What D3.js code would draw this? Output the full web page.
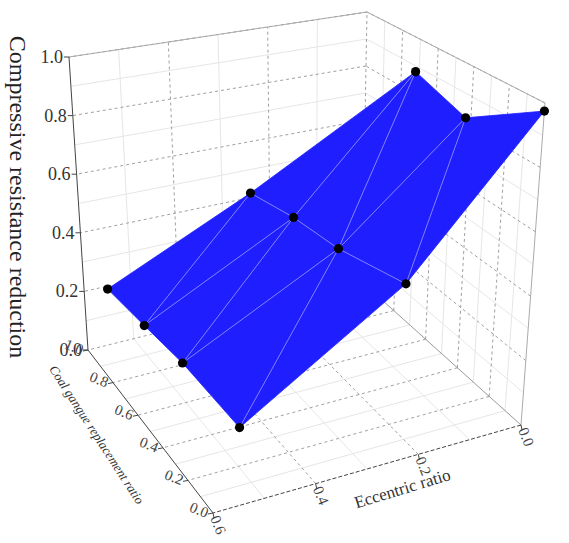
<!DOCTYPE html>
<html><head><meta charset="utf-8">
<script src="https://cdn.jsdelivr.net/npm/d3@7"></script>
<style>body{margin:0;background:#fff} text{font-family:"Liberation Serif","DejaVu Serif",serif}</style></head>
<body><svg id="c" width="569" height="543"></svg>
<script>
// Data
const eccentric = [0, 0.24, 0.55];            // eccentric ratio values
const replacement = [0, 0.43, 0.72, 1.0];     // coal gangue replacement ratio
const reduction = [                            // rows by eccentric, cols by replacement
  [0.975, 0.82, 0.88, null],
  [0.535, 0.476, 0.457, 0.416],
  [0.23, 0.23, 0.21, 0.19]
];
const zTicks = [0, 0.2, 0.4, 0.6, 0.8, 1.0];
const cTicks = [0, 0.2, 0.4, 0.6, 0.8, 1.0];
const eTicks = [0, 0.2, 0.4, 0.6];

const svg = d3.select("#c");
const ea = d3.scaleLinear().domain([0, 0.6]).range([0, 1]);
const ca = d3.scaleLinear().domain([0, 1]).range([0, 1]);
const za = d3.scaleLinear().domain([0, 1]).range([0, 1]);
const botQ = [[[521,425],[362,282]],[[213,513],[88,350]]];
const topQ = [[[545,103],[367,12]],[[215,172],[69,57]]];
function bil(q, a, b) {
  const p0 = [q[0][0][0]*(1-a)+q[1][0][0]*a, q[0][0][1]*(1-a)+q[1][0][1]*a];
  const p1 = [q[0][1][0]*(1-a)+q[1][1][0]*a, q[0][1][1]*(1-a)+q[1][1][1]*a];
  return [p0[0]*(1-b)+p1[0]*b, p0[1]*(1-b)+p1[1]*b];
}
function P(e, c, z) {
  const a = ea(e), b = ca(c), h = za(z);
  const p = bil(botQ, a, b), q = bil(topQ, a, b);
  return [p[0]*(1-h)+q[0]*h, p[1]*(1-h)+q[1]*h];
}
function line3(a, b, stroke, dash, w) {
  const p = P(...a), q = P(...b);
  svg.append("line").attr("x1",p[0]).attr("y1",p[1]).attr("x2",q[0]).attr("y2",q[1])
    .attr("stroke",stroke).attr("stroke-width",w||1).attr("stroke-dasharray",dash||null);
}
const minor = "#e6e6e6", major = "#a0a0a0";
for (let i = 1; i < 10; i += 2) { const v = i/10;
  line3([0,v,0],[0.6,v,0],minor); line3([0,1,v],[0.6,1,v],minor); line3([0,0,v],[0,1,v],minor);
  line3([0,v,0],[0,v,1],minor);
}
for (let i = 1; i < 6; i += 2) { const e = i/10; line3([e,0,0],[e,1,0],minor); line3([e,1,0],[e,1,1],minor); }
zTicks.slice(1).forEach(z => { line3([0,1,z],[0.6,1,z],major,"3,3"); line3([0,0,z],[0,1,z],major,"3,3"); });
cTicks.slice(1,5).forEach(c => { line3([0,c,0],[0.6,c,0],major,"3,3"); line3([0,c,0],[0,c,1],major,"3,3"); });
eTicks.slice(1,3).forEach(e => { line3([e,0,0],[e,1,0],major,"3,3"); line3([e,1,0],[e,1,1],major,"3,3"); });
line3([0,1,0],[0,1,1],major,"3,3");
line3([0,1,0],[0.6,1,0],major,"3,3");
line3([0,0,0],[0,1,0],"#999");
line3([0.6,1,1],[0,1,1],"#aaa"); line3([0,1,1],[0,0,1],"#aaa"); line3([0,0,0],[0,0,1],"#aaa");
line3([0.6,1,0],[0.6,1,1],"#444");
line3([0.6,0,0],[0.6,1,0],"#444");
line3([0,0,0],[0.6,0,0],"#444","4,2");

const pts = [];
reduction.forEach((row, i) => row.forEach((z, j) => { if (z != null) pts.push({i, j, e: eccentric[i], c: replacement[j], z}); }));
const idx = (i, j) => pts.findIndex(p => p.i === i && p.j === j);
const tris = [[[2,3],[2,2],[1,3]],[[2,2],[1,3],[1,2]],[[2,2],[2,1],[1,2]],[[2,1],[1,2],[1,1]],
  [[2,1],[2,0],[1,1]],[[2,0],[1,1],[1,0]],[[1,3],[1,2],[0,2]],[[1,2],[1,1],[0,2]],
  [[1,1],[0,2],[0,1]],[[1,1],[1,0],[0,1]],[[1,0],[0,1],[0,0]]].map(t => t.map(k => pts[idx(k[0],k[1])]));
const proj = p => P(p.e, p.c, p.z);
const surf = svg.append("g");
tris.forEach(t => surf.append("path").attr("d", d3.line()(t.map(proj)) + "Z")
  .attr("fill","#1e1eff").attr("stroke","#1e1eff").attr("stroke-width",0.8));
const ecount = new Map();
tris.forEach(t => [[0,1],[1,2],[0,2]].forEach(([a,b]) => {
  const k = [t[a],t[b]].map(p => p.i+"_"+p.j).sort().join("|");
  if (!ecount.has(k)) ecount.set(k, {n:0, a:t[a], b:t[b]});
  ecount.get(k).n++;
}));
ecount.forEach(v => { if (v.n > 1) { const p = proj(v.a), q = proj(v.b);
  surf.append("line").attr("x1",p[0]).attr("y1",p[1]).attr("x2",q[0]).attr("y2",q[1])
    .attr("stroke","#fff").attr("stroke-opacity",0.55).attr("stroke-width",0.8); }});
pts.forEach(p => { const q = proj(p);
  svg.append("circle").attr("cx",q[0]).attr("cy",q[1]).attr("r",4.6).attr("fill","#000"); });

zTicks.forEach(z => { const p = P(0.6,1,z);
  svg.append("line").attr("x1",p[0]-5).attr("y1",p[1]).attr("x2",p[0]).attr("y2",p[1]).attr("stroke","#444");
  svg.append("text").attr("x",p[0]-6).attr("y",p[1]+6).attr("text-anchor","end")
    .attr("font-size",18).attr("fill","#333").text(z.toFixed(1)); });
cTicks.forEach(c => { const p = P(0.6,c,0);
  svg.append("line").attr("x1",p[0]).attr("y1",p[1]).attr("x2",p[0]-5).attr("y2",p[1]+1).attr("stroke","#444");
  svg.append("text").attr("transform",`translate(${p[0]-7},${p[1]+5}) rotate(22)`).attr("text-anchor","end")
    .attr("font-size",15).attr("fill","#444").text(c.toFixed(1)); });
eTicks.forEach(e => { const p = P(e,0,0);
  svg.append("line").attr("x1",p[0]).attr("y1",p[1]).attr("x2",p[0]+1).attr("y2",p[1]+5).attr("stroke","#444");
  svg.append("text").attr("transform",`translate(${p[0]-3},${p[1]+5}) rotate(68)`).attr("text-anchor","start")
    .attr("font-size",15).attr("fill","#444").text(e.toFixed(1)); });
svg.append("text").attr("transform","translate(10,197) rotate(90)").attr("text-anchor","middle")
  .attr("font-size",24).attr("fill","#222").text("Compressive resistance reduction");
svg.append("text").attr("transform","translate(93,437) rotate(57)").attr("text-anchor","middle")
  .attr("font-style","italic").attr("font-size",13).attr("fill","#333").text("Coal gangue replacement ratio");
svg.append("text").attr("transform","translate(404,494) rotate(-17)").attr("text-anchor","middle")
  .attr("font-size",17).attr("fill","#333").text("Eccentric ratio");
</script></body></html>
